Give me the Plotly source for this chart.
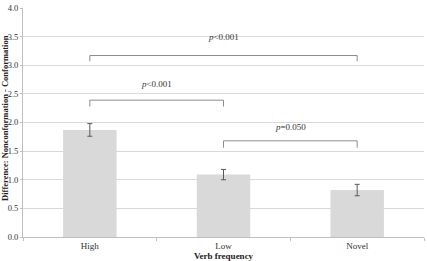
import plotly.graph_objects as go

categories = ["High", "Low", "Novel"]
means = [1.87, 1.09, 0.82]
errors = [0.11, 0.09, 0.10]

# significance brackets: (left index, right index, bar height, label)
bracket_left = [0, 0, 1]
bracket_right = [2, 1, 2]
bracket_y = [3.17, 2.39, 1.68]
bracket_drop = [0.10, 0.11, 0.12]
bracket_label_y = [3.49, 2.67, 1.93]
bracket_p = ["<0.001", "<0.001", "=0.050"]

y_ticks = [0.0, 0.5, 1.0, 1.5, 2.0, 2.5, 3.0, 3.5, 4.0]

FONT = "Liberation Serif, Times New Roman, serif"
GRAY = "#8c8c8c"

xpos = list(range(len(categories)))
boundaries = [i - 0.5 for i in range(len(categories) + 1)]

fig = go.Figure()
fig.add_trace(go.Bar(
    x=xpos, y=means,
    marker=dict(color="#d9d9d9", line=dict(width=0)),
    width=0.4,
    error_y=dict(type="data", array=errors, color="#595959", thickness=1, width=2.5),
    showlegend=False,
))

for l, r, yb, d in zip(bracket_left, bracket_right, bracket_y, bracket_drop):
    fig.add_trace(go.Scatter(
        x=[l, l, r, r], y=[yb - d, yb, yb, yb - d],
        mode="lines", line=dict(color=GRAY, width=1),
        showlegend=False, hoverinfo="skip",
    ))

for l, r, yl, p in zip(bracket_left, bracket_right, bracket_label_y, bracket_p):
    fig.add_annotation(
        x=(l + r) / 2, y=yl, text="<i>p</i>" + p, showarrow=False,
        font=dict(family=FONT, size=9, color="#333333"),
    )

fig.add_annotation(
    xref="paper", yref="paper", x=0, y=0.52, xanchor="center", xshift=-18, textangle=-90,
    text="<b>Difference: Nonconformation - Conformation</b>", showarrow=False,
    font=dict(family=FONT, size=8.5, color="#222222"),
)

fig.update_layout(
    width=427, height=261,
    margin=dict(l=23, r=3, t=5, b=24),
    paper_bgcolor="white", plot_bgcolor="white",
    font=dict(family=FONT, size=9, color="#333333"),
    xaxis=dict(
        range=[-0.5, 2.5], tickvals=xpos, ticktext=categories,
        ticks="", showline=True, linecolor="#bfbfbf", linewidth=1,
        showgrid=False, zeroline=False,
        minor=dict(tickvals=boundaries, ticks="outside", ticklen=3,
                   tickcolor="#bfbfbf", showgrid=False),
        title=dict(text="<b>Verb frequency</b>", standoff=1,
                   font=dict(family=FONT, size=9, color="#222222")),
        tickfont=dict(family=FONT, size=9, color="#333333"),
    ),
    yaxis=dict(
        range=[0, 4.0], tickvals=y_ticks, ticktext=[f"{v:.1f}" for v in y_ticks],
        showgrid=True, gridcolor="#d9d9d9", gridwidth=1,
        showline=True, linecolor="#bfbfbf", linewidth=1,
        ticks="outside", ticklen=2, tickcolor="#bfbfbf",
        zeroline=False, ticklabeloverflow="allow",
        tickfont=dict(family=FONT, size=8.5, color="#333333"),
    ),
)

fig.write_html("out.html")
